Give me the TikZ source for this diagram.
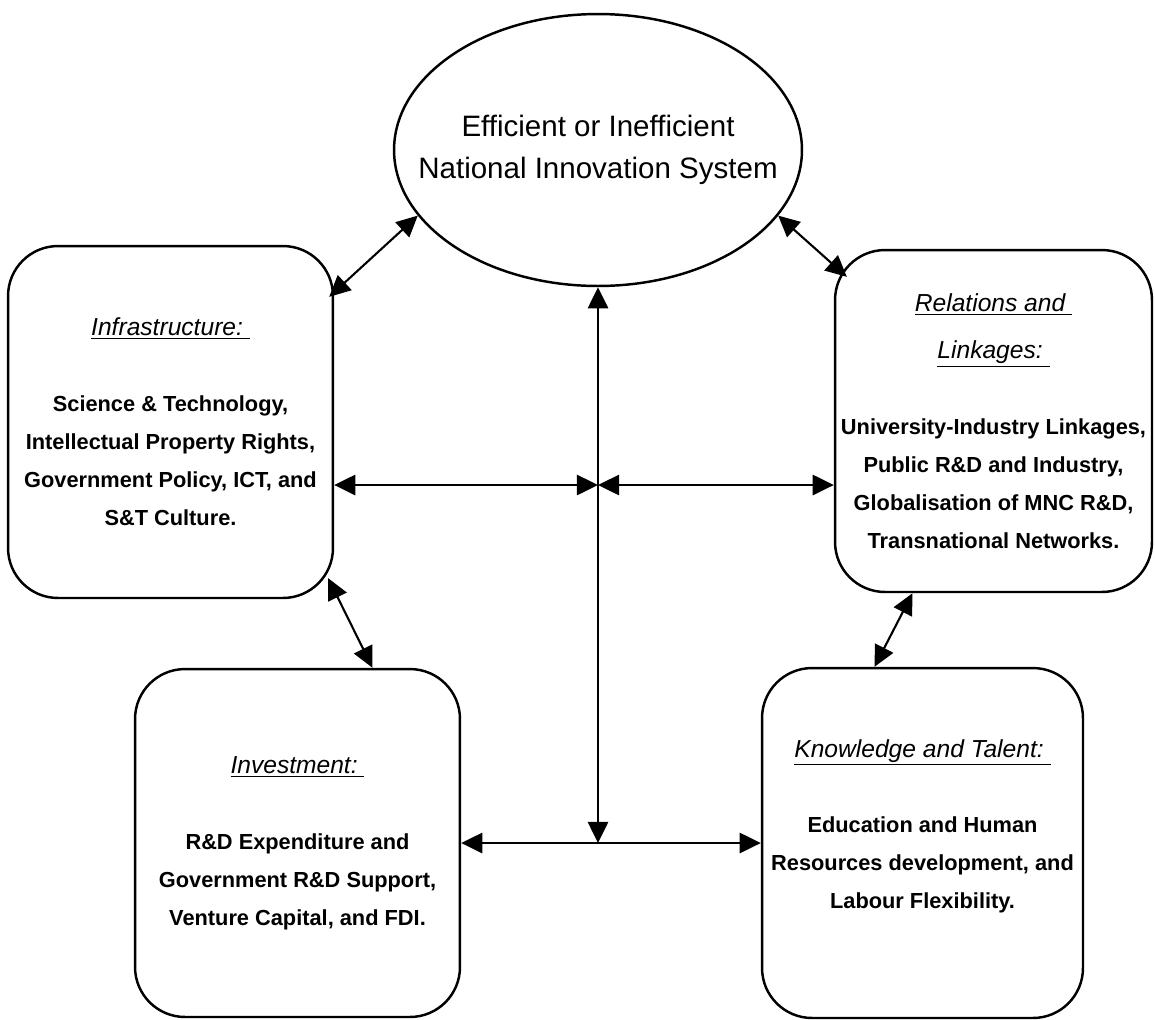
\documentclass[tikz,border=0pt]{standalone}
\usepackage{fontspec}
\setmainfont{Liberation Sans}
\usetikzlibrary{shapes.geometric,arrows.meta,calc}
\tikzset{
  area/.style={draw, line width=1.4pt, rounded corners=1cm, align=center, inner sep=0pt,
    font=\fontsize{12.4}{21.6}\selectfont\bfseries},
  link/.style={line width=1.2pt, {Triangle[length=12pt,width=11.5pt]}-{Triangle[length=12pt,width=11.5pt]}},
}
\newcommand{\areahead}[1]{{\fontsize{14}{21.6}\selectfont\mdseries\itshape\underline{#1\ }}}
\begin{document}
\begin{tikzpicture}[x=0.02cm, y=-0.02cm]
\useasboundingbox (0,0) rectangle (1155,1019);
\node[draw, ellipse, line width=1.4pt, inner sep=0pt, minimum width=8.16cm, minimum height=5.44cm,
  label={[align=center, font=\fontsize{16.8}{23.9}\selectfont]center:Efficient or Inefficient\\National Innovation System}]
  (core) at (598,150) {};
\node[area, minimum width=6.5cm, minimum height=7.04cm] (infra) at (170.5,422)
  {\areahead{Infrastructure:}\\[21.6pt] Science \& Technology,\\ Intellectual Property Rights,\\
   Government Policy, ICT, and\\ S\&T Culture.};
\node[area, minimum width=6.34cm, minimum height=6.84cm] (links) at (993.5,421)
  {\areahead{Relations and}\\[5pt]\areahead{Linkages:}\\[21.6pt] University-Industry Linkages,\\
   Public R\&D and Industry,\\ Globalisation of MNC R\&D,\\ Transnational Networks.};
\node[area, minimum width=6.5cm, minimum height=6.96cm] (invest) at (297.5,843)
  {\areahead{Investment:}\\[21.6pt] R\&D Expenditure and\\ Government R\&D Support,\\
   Venture Capital, and FDI.};
\node[area, minimum width=6.42cm, minimum height=7cm] (talent) at (922.5,843)
  {\areahead{Knowledge and Talent:}\\[21.6pt] Education and Human\\ Resources development, and\\
   Labour Flexibility.\\ \mbox{}};
\coordinate (hub) at (598,485);
\draw[link] (core.200) -- ($(infra.north east)+(-5,52)$);
\draw[link] (core.340) -- ($(links.north west)+(13,28)$);
\draw[link] (infra.east |- hub) -- (hub);
\draw[link] (hub) -- (links.west |- hub);
\draw[link] (core.south) -- (core.south |- invest.east);
\draw[link] (invest.east) -- (talent.west);
\draw[link] ($(infra.south east)+(-6,-21)$) -- ($(invest.north)+(75,0)$);
\draw[link] ($(links.south)+(-81,0)$) -- ($(talent.north)+(-48,0)$);
\end{tikzpicture}
\end{document}
